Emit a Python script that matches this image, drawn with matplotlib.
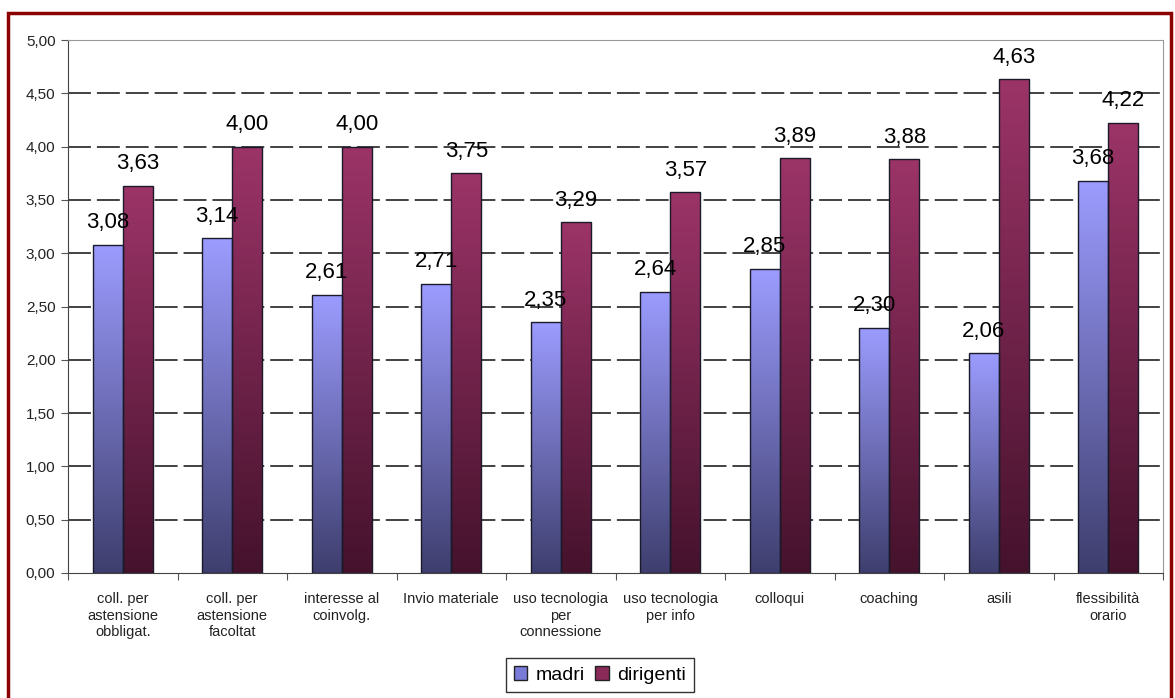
import matplotlib.pyplot as plt
import numpy as np
from matplotlib.colors import LinearSegmentedColormap
from matplotlib.patches import Rectangle

plt.rcParams['font.family'] = ['Liberation Sans', 'DejaVu Sans']

categories = ["coll. per\nastensione\nobbligat.", "coll. per\nastensione\nfacoltat",
              "interesse al\ncoinvolg.", "Invio materiale", "uso tecnologia\nper\nconnessione",
              "uso tecnologia\nper info", "colloqui", "coaching", "asili",
              "flessibilità\norario"]
madri = [3.08, 3.14, 2.61, 2.71, 2.35, 2.64, 2.85, 2.30, 2.06, 3.68]
dirigenti = [3.63, 4.00, 4.00, 3.75, 3.29, 3.57, 3.89, 3.88, 4.63, 4.22]
series_names = ["madri", "dirigenti"]

# bottom -> top colours for the gradient fill
cmap_madri = LinearSegmentedColormap.from_list("m", ["#3e3e6e", "#9c9cff"])
cmap_dir = LinearSegmentedColormap.from_list("d", ["#45122c", "#9c3468"])

fig = plt.figure(figsize=(11.75, 6.98), dpi=100)
ax = fig.add_axes([68/1175, 1-573/698, (1163-68)/1175, (573-40)/698])

x = np.arange(len(categories))
w = 0.275

grad = np.linspace(0, 1, 256).reshape(-1, 1)


def gradient_bars(xs, vals, cmap, label):
    bars = ax.bar(xs, vals, w, color='none', edgecolor='#1a1a2a', linewidth=1.0,
                  label=label, zorder=3)
    for b in bars:
        x0, h = b.get_x(), b.get_height()
        im = ax.imshow(grad, cmap=cmap, origin='lower', aspect='auto',
                       extent=(x0, x0 + b.get_width(), 0, h), zorder=2)
        im.set_clip_path(b)
    for b, v in zip(bars, vals):
        ax.text(b.get_x() + b.get_width()/2, v + 0.11, f"{v:.2f}".replace('.', ','),
                ha='center', va='bottom', fontsize=16, zorder=4)
    return bars


gradient_bars(x - w/2, madri, cmap_madri, series_names[0])
gradient_bars(x + w/2, dirigenti, cmap_dir, series_names[1])

ax.set_xlim(-0.5, len(categories) - 0.5)
ax.set_ylim(0, 5)
ax.set_yticks(np.arange(0, 5.01, 0.5))
ax.set_yticklabels([f"{t:.2f}".replace('.', ',') for t in np.arange(0, 5.01, 0.5)],
                   fontsize=11, color='#222222')
for t in np.arange(0.5, 4.51, 0.5):
    ax.axhline(t, color='#333333', linewidth=1.3, dashes=(12.7, 3.3), zorder=1)

ax.set_xticks(np.arange(-0.5, len(categories), 1))
ax.set_xticklabels([])
ax.set_xticks(x, minor=True)
ax.set_xticklabels(categories, minor=True, fontsize=10.5, color='#222222', linespacing=1.2)
ax.tick_params(axis='x', which='minor', length=0, pad=14)
ax.tick_params(axis='x', which='major', length=5, direction='out', color='#555555')
ax.tick_params(axis='y', length=5, direction='out', color='#555555', pad=4)

for side in ['top', 'right']:
    ax.spines[side].set_color('#999999')
for side in ['left', 'bottom']:
    ax.spines[side].set_color('#444444')

leg = fig.legend(loc='center', bbox_to_anchor=(600/1175, 1-675/698), ncol=2,
                 fontsize=14, frameon=True, fancybox=False, handlelength=0.7,
                 handleheight=0.7, handletextpad=0.45, columnspacing=0.5,
                 borderpad=0.4, borderaxespad=0, edgecolor='black')
leg.get_frame().set_linewidth(1.0)
for h, c in zip(leg.legend_handles, ["#7a7ad8", "#8a2a58"]):
    h.set_facecolor(c)
    h.set_edgecolor('#222222')

fig.patches.append(Rectangle((8/1175, -0.01), 1163/1175, 1-13/698 + 0.01,
                             transform=fig.transFigure, fill=False,
                             edgecolor='#8b0000', linewidth=2.5))

fig.savefig("out.png", dpi=100)
